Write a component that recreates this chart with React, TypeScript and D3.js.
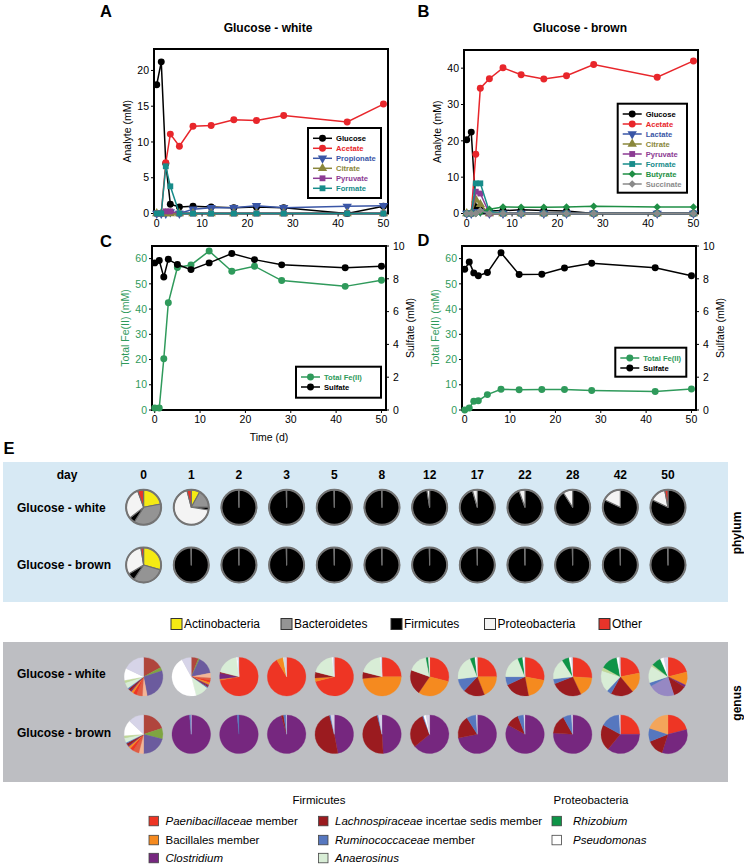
import React from 'react';
import * as d3 from 'd3';

const FONT = "'Liberation Sans', Arial, Helvetica, sans-serif";

// ---------- time axis ----------
const days = [0, 1, 2, 3, 5, 8, 12, 17, 22, 28, 42, 50];
const xTicks = [0, 10, 20, 30, 40, 50];

// ---------- Panel A: Glucose - white (analytes, mM) ----------
const aGlucose = [18.0, 21.2, 7.0, 1.3, 0.9, 1.0, 0.9, 0.8, 0.9, 0.8, 0.0, 1.0];
const aAcetate = [0, 0, 7.1, 11.1, 9.4, 12.2, 12.3, 13.1, 13.0, 13.7, 12.8, 15.3];
const aPropionate = [0, 0, 0, 0.2, 0, 0.6, 0.8, 0.8, 1.1, 0.8, 1.0, 1.1];
const aCitrate = [0, 0, 0, 0, 0, 0, 0, 0, 0, 0, 0, 0];
const aPyruvate = [0, 0, 0.3, 0.3, 0, 0, 0, 0, 0, 0, 0, 0];
const aFormate = [0, 0, 6.6, 3.8, 0, 0, 0, 0, 0, 0, 0, 0];
const aTicks = [0, 5, 10, 15, 20];

// ---------- Panel B: Glucose - brown (analytes, mM) ----------
const bGlucose = [20.3, 22.4, 1.8, 1.2, 0.7, 0.8, 1.0, 0.8, 0.7, 0, 0, 0];
const bAcetate = [0, 0, 16.3, 34.5, 37.1, 40.1, 38.2, 37.0, 37.9, 41.0, 37.5, 42.0];
const bLactate = [0, 0, 0.5, 0.5, 0, 0, 0, 0, 0, 0, 0, 0];
const bCitrate = [0, 0, 3.8, 2.5, 0, 0, 0, 0, 0, 0, 0, 0];
const bPyruvate = [0, 0, 6.0, 5.5, 0, 0, 0, 0, 0, 0, 0, 0];
const bFormate = [0, 0, 8.3, 8.3, 0.5, 0, 0, 0, 0, 0, 0, 0];
const bButyrate = [0, 0, 0, 0.3, 1.2, 1.8, 1.7, 1.7, 1.8, 2.0, 1.8, 1.8];
const bSuccinate = [0, 0, 0, 0.8, 0, 0, 0, 0, 0, 0, 0, 0];
const bTicks = [0, 10, 20, 30, 40];

// ---------- Panels C & D: Total Fe(II) (mM, left) and sulfate (mM, right) ----------
const cFe = [0.8, 0.8, 20.3, 42.5, 56.5, 57.5, 63.0, 55.0, 57.0, 51.3, 49.0, 51.4];
const cSulfate = [8.97, 9.11, 8.11, 9.19, 8.87, 8.56, 8.97, 9.54, 9.17, 8.85, 8.68, 8.77];
const dFe = [0, 0.8, 3.5, 3.7, 6.1, 8.2, 8.0, 8.1, 8.1, 7.7, 7.3, 8.3];
const dSulfate = [8.58, 9.03, 8.36, 8.19, 8.38, 9.59, 8.26, 8.28, 8.66, 8.95, 8.68, 8.19];
const feTicks = [0, 10, 20, 30, 40, 50, 60];
const sulfateTicks = [0, 2, 4, 6, 8, 10];

// ---------- Panel E: phylum pies ----------
const pieDays = ['0', '1', '2', '3', '5', '8', '12', '17', '22', '28', '42', '50'];
const phylumNames = ['Actinobacteria', 'Bacteroidetes', 'Firmicutes', 'Proteobacteria', 'Other'];
const phylumColors = ['#f5ea14', '#949494', '#000000', '#f4f4f4', '#e8342a'];
// fractions [Actino, Bacteroidetes, Firmicutes, Proteobacteria, Other]
const phylumWhite = [
  [0.22, 0.37, 0.055, 0.30, 0.055],
  [0.08, 0.17, 0.025, 0.685, 0.04],
  [0, 0, 0.997, 0.003, 0],
  [0, 0, 0.997, 0.003, 0],
  [0, 0, 0.997, 0.003, 0],
  [0, 0, 0.997, 0.003, 0],
  [0, 0, 0.975, 0.025, 0],
  [0, 0, 0.955, 0.045, 0],
  [0, 0, 0.945, 0.055, 0],
  [0, 0, 0.91, 0.09, 0],
  [0, 0, 0.82, 0.18, 0],
  [0, 0, 0.82, 0.15, 0.03],
];
const phylumBrown = [
  [0.295, 0.30, 0.07, 0.31, 0.025],
  [0, 0, 0.997, 0.003, 0],
  [0, 0, 0.997, 0.003, 0],
  [0, 0, 0.997, 0.003, 0],
  [0, 0, 0.997, 0.003, 0],
  [0, 0, 0.997, 0.003, 0],
  [0, 0, 0.997, 0.003, 0],
  [0, 0, 0.997, 0.003, 0],
  [0, 0, 0.997, 0.003, 0],
  [0, 0, 0.997, 0.003, 0],
  [0, 0, 0.997, 0.003, 0],
  [0, 0, 0.997, 0.003, 0],
];

// ---------- Panel E: genus pies ----------
const genusNames = [
  'other a', 'other b', 'other c', 'other d', 'other e',
  'Paenibacillaceae member', 'Bacillales member', 'Clostridium',
  'Lachnospiraceae incertae sedis member', 'other f', 'Ruminococcaceae member',
  'Anaerosinus', 'other g', 'Rhizobium', 'Pseudomonas', 'other h', 'other i',
];
const genusColors = [
  '#b0453d', '#7fa541', '#6b5b9e', '#f2b597', '#df5c43',
  '#ee3524', '#f58a1f', '#76277f',
  '#9b1b1f', '#9688c3', '#5677bf',
  '#d8edd6', '#c0d898', '#0e9447', '#ffffff', '#f4a55a', '#d6d4e8',
];
const genusWhite = [
  [0.17, 0.03, 0.27, 0.04, 0.05, 0.03, 0.02, 0.01, 0.02, 0, 0.01, 0.05, 0.02, 0, 0.10, 0, 0.18],
  [0.06, 0.01, 0.15, 0.04, 0.02, 0.02, 0.02, 0.01, 0.01, 0, 0.01, 0.11, 0, 0, 0.46, 0, 0.08],
  [0, 0, 0, 0, 0, 0.72, 0.01, 0.05, 0.01, 0, 0, 0.19, 0, 0, 0.01, 0, 0.01],
  [0, 0, 0, 0, 0, 0.915, 0.055, 0, 0, 0, 0, 0.01, 0, 0, 0, 0, 0.02],
  [0, 0, 0, 0, 0, 0.71, 0.03, 0, 0.05, 0, 0, 0.19, 0, 0, 0.01, 0, 0.01],
  [0, 0, 0, 0, 0, 0.25, 0.485, 0, 0.055, 0, 0, 0.195, 0, 0, 0.008, 0, 0.007],
  [0, 0, 0, 0, 0, 0.29, 0.305, 0, 0.21, 0, 0, 0.165, 0, 0.02, 0.01, 0, 0],
  [0, 0, 0, 0, 0, 0.25, 0.19, 0, 0.18, 0, 0.11, 0.21, 0, 0.04, 0.015, 0, 0.005],
  [0, 0, 0, 0, 0, 0.28, 0.19, 0, 0.21, 0, 0.07, 0.19, 0, 0.04, 0.015, 0, 0.005],
  [0, 0, 0, 0, 0, 0.26, 0.17, 0, 0.26, 0, 0.04, 0.18, 0, 0.06, 0.02, 0, 0.01],
  [0, 0, 0, 0, 0, 0.22, 0.17, 0, 0.19, 0, 0.04, 0.18, 0.03, 0.14, 0.02, 0, 0.01],
  [0, 0, 0, 0, 0, 0.21, 0.11, 0.02, 0.11, 0.22, 0.03, 0.14, 0.015, 0.08, 0.03, 0, 0.035],
];
const genusBrown = [
  [0.20, 0.09, 0.21, 0.04, 0.05, 0.03, 0.02, 0.01, 0.02, 0, 0.01, 0.04, 0.02, 0, 0.13, 0, 0.13],
  [0, 0, 0, 0, 0, 0, 0, 0.985, 0, 0, 0.012, 0, 0, 0, 0, 0, 0.003],
  [0, 0, 0, 0, 0, 0, 0, 0.985, 0, 0, 0.015, 0, 0, 0, 0, 0, 0],
  [0, 0, 0, 0, 0, 0, 0, 0.955, 0.02, 0, 0.02, 0, 0, 0, 0, 0, 0.005],
  [0, 0, 0, 0, 0, 0, 0, 0.47, 0.49, 0, 0.01, 0, 0, 0, 0, 0, 0.03],
  [0, 0, 0, 0, 0, 0, 0, 0.49, 0.47, 0, 0.01, 0, 0, 0, 0, 0, 0.03],
  [0, 0, 0, 0, 0, 0, 0, 0.64, 0.30, 0, 0.01, 0, 0, 0, 0.02, 0, 0.03],
  [0, 0, 0, 0, 0, 0, 0, 0.72, 0.19, 0, 0.08, 0, 0, 0, 0, 0, 0.01],
  [0, 0, 0, 0, 0, 0, 0, 0.83, 0.11, 0, 0.05, 0, 0, 0, 0, 0, 0.01],
  [0, 0, 0, 0, 0, 0, 0, 0.76, 0.16, 0, 0.07, 0, 0, 0, 0, 0, 0.01],
  [0, 0, 0, 0, 0, 0.25, 0, 0.36, 0.22, 0, 0.16, 0, 0, 0, 0, 0, 0.01],
  [0, 0, 0, 0, 0, 0.21, 0, 0.34, 0.14, 0, 0.11, 0, 0, 0, 0, 0.20, 0],
];
// legend entries: [category index, italic part, regular part]
const firmicutesLegend: [number, string, string][] = [
  [5, 'Paenibacillaceae', ' member'],
  [6, '', 'Bacillales member'],
  [7, 'Clostridium', ''],
  [8, 'Lachnospiraceae', ' incertae sedis member'],
  [10, 'Ruminococcaceae', ' member'],
  [11, 'Anaerosinus', ''],
];
const proteoLegend: [number, string, string][] = [
  [13, 'Rhizobium', ''],
  [14, 'Pseudomonas', ''],
];

// ---------- styles ----------
const C_GLU = '#000000';
const C_ACE = '#e8262b';
const C_PRO = '#3a56a6';
const C_CIT = '#8a873c';
const C_PYR = '#8c3b93';
const C_FOR = '#178c8a';
const C_BUT = '#1f8f45';
const C_SUC = '#8a8a8a';
const C_FE = '#2f9a5b';

type Series = { name: string; color: string; shape: string; values: number[]; right?: boolean };

const seriesA: Series[] = [
  { name: 'Glucose', color: C_GLU, shape: 'circle', values: aGlucose },
  { name: 'Acetate', color: C_ACE, shape: 'circle', values: aAcetate },
  { name: 'Propionate', color: C_PRO, shape: 'triDown', values: aPropionate },
  { name: 'Citrate', color: C_CIT, shape: 'triUp', values: aCitrate },
  { name: 'Pyruvate', color: C_PYR, shape: 'square', values: aPyruvate },
  { name: 'Formate', color: C_FOR, shape: 'square', values: aFormate },
];
const seriesB: Series[] = [
  { name: 'Glucose', color: C_GLU, shape: 'circle', values: bGlucose },
  { name: 'Acetate', color: C_ACE, shape: 'circle', values: bAcetate },
  { name: 'Lactate', color: C_PRO, shape: 'triDown', values: bLactate },
  { name: 'Citrate', color: C_CIT, shape: 'triUp', values: bCitrate },
  { name: 'Pyruvate', color: C_PYR, shape: 'square', values: bPyruvate },
  { name: 'Formate', color: C_FOR, shape: 'square', values: bFormate },
  { name: 'Butyrate', color: C_BUT, shape: 'diamond', values: bButyrate },
  { name: 'Succinate', color: C_SUC, shape: 'diamond', values: bSuccinate },
];
const seriesC: Series[] = [
  { name: 'Total Fe(II)', color: C_FE, shape: 'circle', values: cFe },
  { name: 'Sulfate', color: '#000000', shape: 'circle', values: cSulfate, right: true },
];
const seriesD: Series[] = [
  { name: 'Total Fe(II)', color: C_FE, shape: 'circle', values: dFe },
  { name: 'Sulfate', color: '#000000', shape: 'circle', values: dSulfate, right: true },
];

function symbolFor(shape: string): { d: string; rot: number } {
  const s = d3.symbol();
  if (shape === 'circle') return { d: s.type(d3.symbolCircle).size(38)() as string, rot: 0 };
  if (shape === 'square') return { d: s.type(d3.symbolSquare).size(34)() as string, rot: 0 };
  if (shape === 'diamond') return { d: s.type(d3.symbolSquare).size(28)() as string, rot: 45 };
  if (shape === 'triUp') return { d: s.type(d3.symbolTriangle).size(38)() as string, rot: 0 };
  return { d: s.type(d3.symbolTriangle).size(38)() as string, rot: 180 };
}

function Marker({ shape, x, y, color }: { shape: string; x: number; y: number; color: string }) {
  const sy = symbolFor(shape);
  return <path d={sy.d} transform={`translate(${x},${y}) rotate(${sy.rot})`} fill={color} />;
}

type PanelProps = {
  box: [number, number, number, number];
  yMax: number;
  yTicks: number[];
  series: Series[];
  leg: { x: number; y: number; w: number; h: number };
  yLabel: string;
  leftColor: string;
  rightMax?: number;
  rightTicks?: number[];
  rightLabel?: string;
  xLabel?: string;
};

function Panel(p: PanelProps) {
  const [L, T, R, B] = p.box;
  const x = d3.scaleLinear().domain([-0.6, 51]).range([L, R]);
  const yl = d3.scaleLinear().domain([0, p.yMax]).range([B, T]);
  const yr = d3.scaleLinear().domain([0, p.rightMax || 10]).range([B, T]);
  const midY = (T + B) / 2;
  return (
    <g>
      {xTicks.map((t) => (
        <g key={'x' + t}>
          <line x1={x(t)} x2={x(t)} y1={B} y2={B + 3} stroke="#000" strokeWidth={1} />
          <text x={x(t)} y={B + 13} textAnchor="middle" fontSize={10.5}>{t}</text>
        </g>
      ))}
      {p.yTicks.map((t) => (
        <g key={'y' + t}>
          <line x1={L - 3} x2={L} y1={yl(t)} y2={yl(t)} stroke="#000" strokeWidth={1} />
          <text x={L - 5} y={yl(t) + 3.7} textAnchor="end" fontSize={10.5} fill={p.leftColor}>{t}</text>
        </g>
      ))}
      {p.rightTicks && p.rightTicks.map((t) => (
        <g key={'r' + t}>
          <line x1={R} x2={R + 3} y1={yr(t)} y2={yr(t)} stroke="#000" strokeWidth={1} />
          <text x={R + 7} y={yr(t) + 3.7} textAnchor="start" fontSize={10.5}>{t}</text>
        </g>
      ))}
      <text transform={`translate(${L - 27},${midY}) rotate(-90)`} textAnchor="middle" dy="0.35em" fontSize={10.5} fill={p.leftColor}>{p.yLabel}</text>
      {p.rightLabel && (
        <text transform={`translate(${R + 24},${midY}) rotate(-90)`} textAnchor="middle" dy="0.35em" fontSize={10.5}>{p.rightLabel}</text>
      )}
      {p.xLabel && (
        <text x={(L + R) / 2} y={B + 31} textAnchor="middle" fontSize={10.5}>{p.xLabel}</text>
      )}
      <rect x={L} y={T} width={R - L} height={B - T} fill="none" stroke="#000" strokeWidth={2} />
      {p.series.map((s) => {
        const sc = s.right ? yr : yl;
        const line = d3.line<number>().x((_, i) => x(days[i])).y((v) => sc(v));
        return (
          <g key={s.name}>
            <path d={line(s.values) as string} fill="none" stroke={s.color} strokeWidth={1.5} />
            {s.values.map((v, i) => (
              <Marker key={i} shape={s.shape} x={x(days[i])} y={sc(v)} color={s.color} />
            ))}
          </g>
        );
      })}
      <rect x={p.leg.x} y={p.leg.y} width={p.leg.w} height={p.leg.h} fill="#fff" stroke="#000" strokeWidth={2} />
      {p.series.map((s, i) => {
        const ry = p.leg.y + 10.3 + i * 10;
        return (
          <g key={'lg' + s.name}>
            <line x1={p.leg.x + 5} x2={p.leg.x + 24} y1={ry} y2={ry} stroke={s.color} strokeWidth={1.5} />
            <Marker shape={s.shape} x={p.leg.x + 14.5} y={ry} color={s.color} />
            <text x={p.leg.x + 28} y={ry + 2.8} fontSize={7.6} fontWeight="bold" fill={s.color}>{s.name}</text>
          </g>
        );
      })}
    </g>
  );
}

const colX = d3.scaleLinear().domain([0, 11]).range([143.6, 668]);

function PhylumPie({ cx, cy, values }: { cx: number; cy: number; values: number[] }) {
  const r = 17.5;
  const arcs = d3.pie<number>().sort(null).value((d) => d)(values);
  const arc = d3.arc<d3.PieArcDatum<number>>().innerRadius(0).outerRadius(r);
  return (
    <g transform={`translate(${cx},${cy})`}>
      {arcs.map((a, i) => (a.value > 0 ? (
        <path key={i} d={arc(a) as string} fill={phylumColors[i]} stroke="#6e6e6e" strokeWidth={1.1} strokeLinejoin="round" />
      ) : null))}
      <circle r={r} fill="none" stroke="#747474" strokeWidth={2} />
    </g>
  );
}

function GenusPie({ cx, cy, values }: { cx: number; cy: number; values: number[] }) {
  const r = 19.3;
  const arcs = d3.pie<number>().sort(null).value((d) => d)(values);
  const arc = d3.arc<d3.PieArcDatum<number>>().innerRadius(0).outerRadius(r);
  return (
    <g transform={`translate(${cx},${cy})`}>
      {arcs.map((a, i) => (a.value > 0 ? (
        <path key={i} d={arc(a) as string} fill={genusColors[i]} stroke={genusColors[i]} strokeWidth={0.3} />
      ) : null))}
    </g>
  );
}

export default function App() {
  const legendPhylumX = [171, 281, 391, 484.5, 599];
  const genusCols = [149, 318.5, 552];
  const genusRows = [821, 840, 858];
  return (
    <div style={{ position: 'absolute', left: 0, top: 0 }}>
      <svg width={744} height={867} style={{ display: 'block', fontFamily: FONT }}>
        <rect width={744} height={867} fill="#ffffff" />
        {/* panel letters and titles */}
        <text x={100} y={17} fontSize={16.5} fontWeight="bold">A</text>
        <text x={417.5} y={17} fontSize={16.5} fontWeight="bold">B</text>
        <text x={100} y={246.5} fontSize={16.5} fontWeight="bold">C</text>
        <text x={417.5} y={246} fontSize={16.5} fontWeight="bold">D</text>
        <text x={3.5} y={454} fontSize={16.5} fontWeight="bold">E</text>
        <text x={268} y={32} fontSize={12} fontWeight="bold" textAnchor="middle">Glucose - white</text>
        <text x={580} y={32} fontSize={12} fontWeight="bold" textAnchor="middle">Glucose - brown</text>

        <Panel box={[154, 49, 388, 213.5]} yMax={23} yTicks={aTicks} series={seriesA}
          leg={{ x: 308, y: 128, w: 73, h: 70 }} yLabel="Analyte (mM)" leftColor="#000" />
        <Panel box={[464, 50, 698, 213.5]} yMax={45} yTicks={bTicks} series={seriesB}
          leg={{ x: 617.7, y: 103.7, w: 69.3, h: 89 }} yLabel="Analyte (mM)" leftColor="#000" />
        <Panel box={[152, 246, 386, 410]} yMax={65} yTicks={feTicks} series={seriesC}
          leg={{ x: 296, y: 366.7, w: 85, h: 31 }} yLabel="Total Fe(II) (mM)" leftColor={C_FE}
          rightMax={10} rightTicks={sulfateTicks} rightLabel="Sulfate (mM)" xLabel="Time (d)" />
        <Panel box={[462, 246, 696, 410]} yMax={65} yTicks={feTicks} series={seriesD}
          leg={{ x: 615.3, y: 347.7, w: 71, h: 29 }} yLabel="Total Fe(II) (mM)" leftColor={C_FE}
          rightMax={10} rightTicks={sulfateTicks} rightLabel="Sulfate (mM)" />

        {/* phylum block */}
        <rect x={3} y={462} width={725} height={140} fill="#d7e9f4" />
        <text x={67} y={479} fontSize={12} fontWeight="bold" textAnchor="middle">day</text>
        {pieDays.map((d, i) => (
          <text key={'d' + d} x={colX(i)} y={479} fontSize={12} fontWeight="bold" textAnchor="middle">{d}</text>
        ))}
        <text x={17} y={511.5} fontSize={12} fontWeight="bold">Glucose - white</text>
        <text x={17} y={569} fontSize={12} fontWeight="bold">Glucose - brown</text>
        {phylumWhite.map((v, i) => <PhylumPie key={'pw' + i} cx={colX(i)} cy={507.3} values={v} />)}
        {phylumBrown.map((v, i) => <PhylumPie key={'pb' + i} cx={colX(i)} cy={565} values={v} />)}
        <text transform="translate(737,533) rotate(-90)" textAnchor="middle" dy="0.35em" fontSize={12} fontWeight="bold">phylum</text>

        {/* phylum legend */}
        {phylumNames.map((n, i) => (
          <g key={'pl' + n}>
            <rect x={legendPhylumX[i]} y={618.5} width={11} height={11} fill={phylumColors[i]} stroke="#333" strokeWidth={1} />
            <text x={legendPhylumX[i] + 13} y={628.3} fontSize={12}>{n}</text>
          </g>
        ))}

        {/* genus block */}
        <rect x={3} y={642} width={725} height={140} fill="#bdbec2" />
        <text x={17} y={678} fontSize={12} fontWeight="bold">Glucose - white</text>
        <text x={17} y={737} fontSize={12} fontWeight="bold">Glucose - brown</text>
        {genusWhite.map((v, i) => <GenusPie key={'gw' + i} cx={colX(i)} cy={676.7} values={v} />)}
        {genusBrown.map((v, i) => <GenusPie key={'gb' + i} cx={colX(i)} cy={734.3} values={v} />)}
        <text transform="translate(737,703) rotate(-90)" textAnchor="middle" dy="0.35em" fontSize={12} fontWeight="bold">genus</text>

        {/* genus legend */}
        <text x={319} y={804} fontSize={11.5} textAnchor="middle">Firmicutes</text>
        <text x={591} y={804} fontSize={11.5} textAnchor="middle">Proteobacteria</text>
        {firmicutesLegend.map((e, i) => {
          const cx = genusCols[Math.floor(i / 3)];
          const cy = genusRows[i % 3];
          return (
            <g key={'gl' + i}>
              <rect x={cx} y={cy - 4.7} width={9.5} height={9.5} fill={genusColors[e[0]]} stroke="#444" strokeWidth={0.8} />
              <text x={cx + 16.5} y={cy + 4} fontSize={11.5}>
                {e[1] && <tspan fontStyle="italic">{e[1]}</tspan>}
                {e[2] && <tspan>{e[2]}</tspan>}
              </text>
            </g>
          );
        })}
        {proteoLegend.map((e, i) => {
          const cx = genusCols[2];
          const cy = genusRows[i];
          return (
            <g key={'pr' + i}>
              <rect x={cx} y={cy - 4.7} width={9.5} height={9.5} fill={genusColors[e[0]]} stroke="#444" strokeWidth={0.8} />
              <text x={cx + 21} y={cy + 4} fontSize={11.5}>
                <tspan fontStyle="italic">{e[1]}</tspan>
              </text>
            </g>
          );
        })}
      </svg>
    </div>
  );
}
